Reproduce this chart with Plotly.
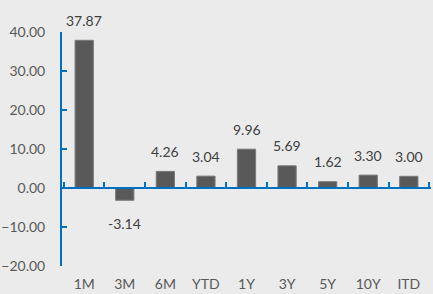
import plotly.graph_objects as go

categories = ["1M", "3M", "6M", "YTD", "1Y", "3Y", "5Y", "10Y", "ITD"]
values = [37.87, -3.14, 4.26, 3.04, 9.96, 5.69, 1.62, 3.30, 3.00]
y_ticks = [-20, -10, 0, 10, 20, 30, 40]

BLUE = "#0070C0"
FONT = "Lato"

fig = go.Figure()
fig.add_trace(go.Bar(
    x=categories, y=values,
    marker=dict(color="#595959", line=dict(color="#7a7a7a", width=1)),
    width=0.45,
    cliponaxis=False,
    xaxis="x", yaxis="y",
))
fig.add_trace(go.Scatter(
    x=categories, y=[None] * len(categories),
    xaxis="x2", yaxis="y", showlegend=False, hoverinfo="skip",
))

for c, v in zip(categories, values):
    fig.add_annotation(
        x=c, y=v, xref="x", yref="y", text=f"{v:.2f}", showarrow=False,
        yanchor="middle", yshift=20 if v >= 0 else -23,
        font=dict(family=FONT, size=14, color="#404040"),
    )

fig.update_layout(
    width=433, height=294,
    margin=dict(l=62, r=2, t=32, b=28, autoexpand=False),
    paper_bgcolor="#EBEBEB", plot_bgcolor="#EBEBEB",
    showlegend=False,
    xaxis=dict(
        type="category", anchor="free", position=1/3, automargin=False,
        showline=True, linecolor=BLUE, linewidth=2,
        ticks="inside", tickson="boundaries", ticklen=5, tickwidth=2, tickcolor=BLUE,
        showticklabels=False, showgrid=False, zeroline=False,
    ),
    xaxis2=dict(
        type="category", overlaying="x", matches="x", side="bottom", anchor="y",
        automargin=False,
        showline=False, ticks="", showgrid=False, zeroline=False,
        tickfont=dict(family=FONT, size=14, color="#595959"),
        ticklabelstandoff=8,
    ),
    yaxis=dict(
        range=[-20, 40], tickvals=y_ticks, tickformat=".2f", automargin=False,
        showline=True, linecolor=BLUE, linewidth=2,
        ticks="inside", ticklen=5, tickwidth=2, tickcolor=BLUE,
        showgrid=False, zeroline=False,
        tickfont=dict(family=FONT, size=14, color="#595959"),
        ticklabelstandoff=12,
    ),
)

fig.write_html(
    "out.html",
    config={"displayModeBar": False},
    post_script="document.body.style.margin='0';document.body.style.overflow='hidden';",
)
